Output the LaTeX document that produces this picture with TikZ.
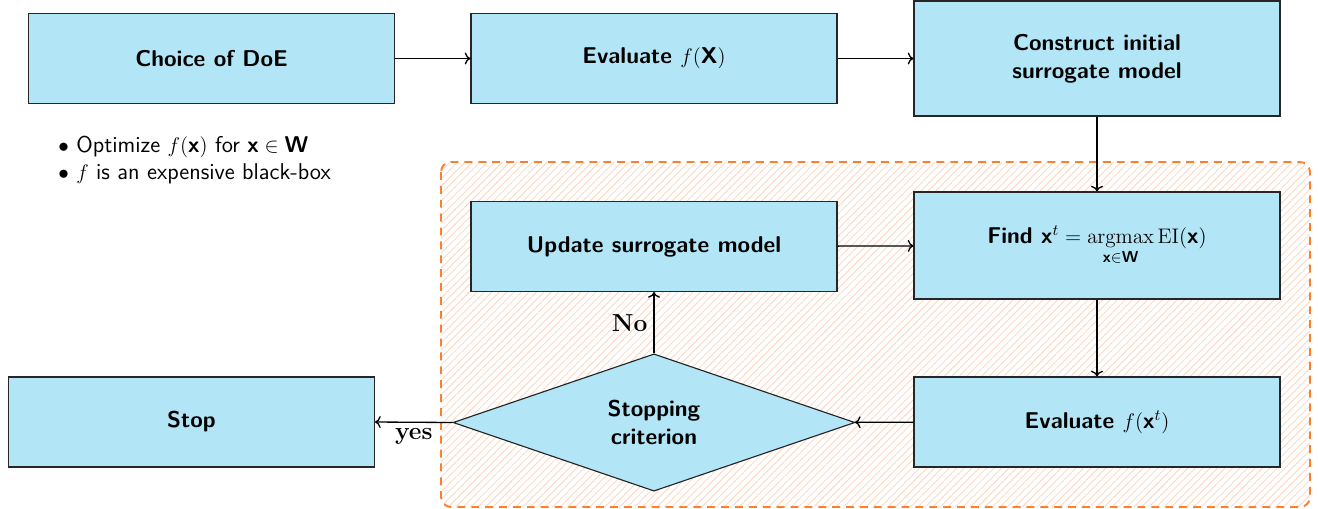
\documentclass[tikz,border=0pt]{standalone}
\usepackage{amsmath}
\usetikzlibrary{shapes.geometric,patterns.meta,arrows.meta}
\definecolor{boxblue}{RGB}{178,229,245}
\definecolor{dashorange}{RGB}{250,128,48}
\definecolor{hatchorange}{RGB}{253,212,188}
\newcommand\bxx{\text{\sffamily\bfseries x}}
\newcommand\bWW{\text{\sffamily\bfseries W}}
\newcommand\bXX{\text{\sffamily\bfseries X}}
\tikzset{
  stepbox/.style={draw=black!85, fill=boxblue, line width=0.65pt, inner sep=0pt,
    minimum width=7.32cm, minimum height=1.8cm, align=center,
    font=\fontsize{13}{16}\selectfont\sffamily\bfseries},
  decision/.style={diamond, draw=black!85, fill=boxblue, line width=0.65pt, inner sep=0pt,
    minimum width=8.04cm, minimum height=2.66cm, align=center,
    font=\fontsize{13}{16}\selectfont\sffamily\bfseries},
  flow/.style={->, line width=0.75pt},
  lbl/.style={font=\fontsize{14}{16}\selectfont\rmfamily\bfseries},
  loopregion/.style={draw=dashorange, line width=1.1pt, dash pattern=on 4.5pt off 3.4pt,
    rounded corners=0.2cm, pattern={Lines[angle=45,distance=3pt,line width=0.45pt]},
    pattern color=hatchorange}
}
\begin{document}
\begin{tikzpicture}[x=0.02cm,y=-0.02cm]
\useasboundingbox (0,0) rectangle (1318,508);
\draw[loopregion] (441,162) rectangle (1310,507);

\node[stepbox] (doe) at (211.5,58.5) {Choice of DoE};
\node[stepbox] (evalX) at (654,58.5) {Evaluate $f(\bXX)$};
\node[stepbox, minimum height=2.3cm] (init) at (1097,58.5) {Construct initial\\surrogate model};
\node[stepbox, minimum height=2.14cm] (find) at (1097,245.5) {Find $\bxx^t = \mathop{\mathrm{argmax}}\limits_{\bxx\in\bWW}\mathrm{EI}(\bxx)$};
\node[stepbox] (update) at (654,246.5) {Update surrogate model};
\node[stepbox] (evalxt) at (1097,422) {Evaluate $f(\bxx^t)$};
\node[decision] (stopq) at (654,422.5) {Stopping\\criterion};
\node[stepbox] (stop) at (191.5,422) {Stop};

\node[anchor=north west, align=left, inner sep=0pt, font=\fontsize{13}{15}\selectfont\sffamily] (notes) at (58,136)
  {$\bullet$ Optimize $f(\bxx)$ for $\bxx\in\bWW$\\ $\bullet$ $f$ is an expensive black-box};

\draw[flow] (doe) -- (evalX);
\draw[flow] (evalX) -- (init);
\draw[flow] (init) -- (find);
\draw[flow] (update) -- (find);
\draw[flow] (find) -- (evalxt);
\draw[flow] (evalxt) -- (stopq);
\draw[flow] (stopq.north) -- node[lbl, left] {No} (update.south);
\draw[flow] (stopq.west) -- node[lbl, below] {yes} (stop.east);
\end{tikzpicture}
\end{document}
